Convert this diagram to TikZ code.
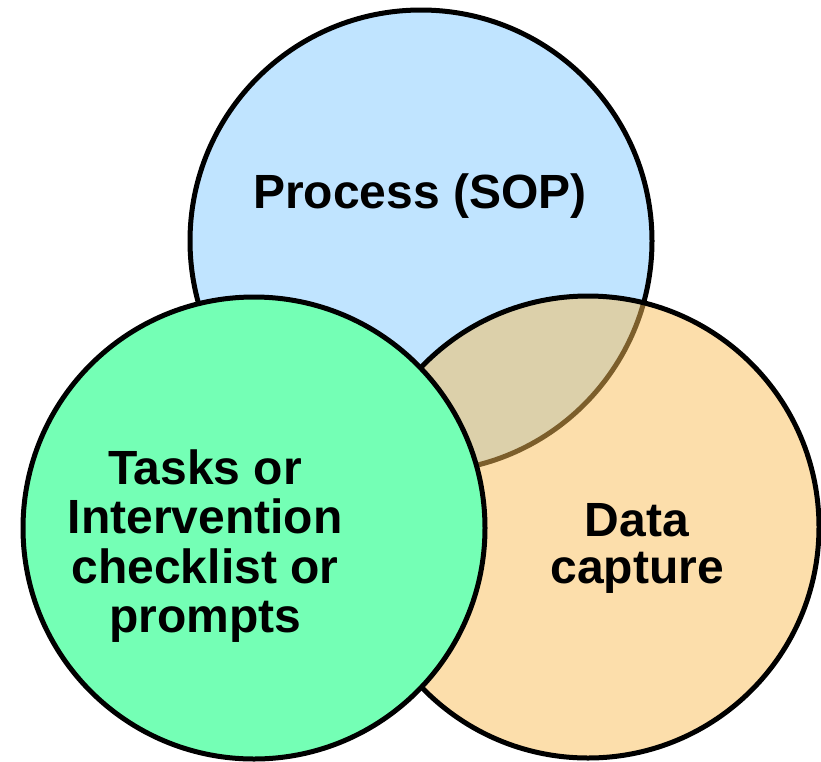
\documentclass[tikz,border=0pt]{standalone}
\usepackage{fontspec}
\setmainfont{Liberation Sans}
\usetikzlibrary{positioning}

\definecolor{sopblue}{RGB}{192,228,255}
\definecolor{dataorange}{RGB}{249,189,87}
\definecolor{taskgreen}{RGB}{116,255,181}

\begin{document}
\begin{tikzpicture}[
    x=1pt, y=-1pt,
    ring/.style={circle, draw=black, line width=5pt, minimum size=462pt, inner sep=0pt},
    label/.style={font=\fontsize{48}{49.5}\selectfont\bfseries, align=center, inner sep=0pt, text=black}
]
    \useasboundingbox (0,0) rectangle (821,761);

    \node[ring, fill=sopblue] (process) at (421,241) {};
    \node[ring, fill=dataorange, fill opacity=0.5, draw opacity=1] (data) at (588,527) {};
    \node[ring, fill=taskgreen] (tasks) at (254,528) {};

    \node[label, anchor=base] (processtxt) at (420,208) {Process (SOP)};
    \node[label] (tasktxt) at (205,546) {Tasks or\\Intervention\\checklist or\\prompts};
    \node[label, font=\fontsize{48}{47}\selectfont\bfseries] (datatxt) at (637,548) {Data\\capture};
\end{tikzpicture}
\end{document}
